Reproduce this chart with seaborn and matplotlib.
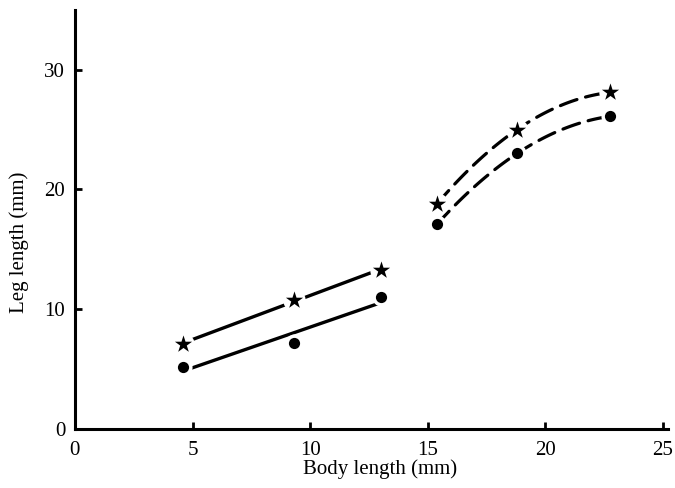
import numpy as np
import pandas as pd
import matplotlib.pyplot as plt
import seaborn as sns

# values
body_small = [4.6, 9.3, 13.0]
star_small = [7.1, 10.8, 13.25]
dot_small = [5.2, 7.2, 11.0]

body_large = [15.4, 18.8, 22.75]
star_large = [18.8, 25.0, 28.1]
dot_large = [17.1, 23.0, 26.1]

x_ticks = [0, 5, 10, 15, 20, 25]
y_ticks = [0, 10, 20, 30]

sns.set_style("ticks")
plt.rcParams['font.family'] = ['Liberation Serif', 'DejaVu Serif']
plt.rcParams['text.color'] = 'black'
plt.rcParams['axes.labelcolor'] = 'black'
plt.rcParams['xtick.color'] = 'black'
plt.rcParams['ytick.color'] = 'black'
plt.rcParams['axes.edgecolor'] = 'black'

fig = plt.figure(figsize=(6.75, 4.88), dpi=100)
ax = fig.add_axes([0.111, 0.121, 0.878, 0.859])

small = pd.DataFrame({'body': body_small, 'star': star_small, 'dot': dot_small})
large = pd.DataFrame({'body': body_large, 'star': star_large, 'dot': dot_large})

# fitted lines (solid, straight) for the small animals
for col in ['star', 'dot']:
    sns.regplot(data=small, x='body', y=col, ax=ax, scatter=False, ci=None,
                truncate=True, color='black', line_kws={'lw': 2.4, 'solid_capstyle': 'round'})

# dashed curves for the large animals
for col in ['star', 'dot']:
    sns.regplot(data=large, x='body', y=col, ax=ax, scatter=False, ci=None, order=2,
                truncate=True, color='black',
                line_kws={'lw': 2.3, 'ls': (0, (5.5, 2.8)), 'dash_capstyle': 'round'})

# white halos under the markers so the lines stop short of them
both = pd.concat([small, large], ignore_index=True)
sns.scatterplot(data=both, x='body', y='star', ax=ax, marker='o', s=260, color='white',
                linewidth=0, zorder=4)
sns.scatterplot(data=both, x='body', y='dot', ax=ax, marker='o', s=170, color='white',
                linewidth=0, zorder=4)
sns.scatterplot(data=both, x='body', y='star', ax=ax, marker='*', s=170, color='black',
                linewidth=0, zorder=5)
sns.scatterplot(data=both, x='body', y='dot', ax=ax, marker='o', s=65, color='black',
                linewidth=0, zorder=5)

ax.set_xlim(0, 25.2)
ax.set_ylim(0, 35)
ax.set_xticks(x_ticks)
ax.set_yticks(y_ticks)
ax.tick_params(direction='in', length=5, width=2, labelsize=15)
ax.tick_params(axis='x', pad=9)
ax.tick_params(axis='y', pad=7)
for s in ['left', 'bottom']:
    ax.spines[s].set_linewidth(2.2)
sns.despine(ax=ax)

ax.set_xlabel('Body length (mm)', fontsize=15, va='top')
ax.set_ylabel('Leg length (mm)', fontsize=15)
ax.xaxis.set_label_coords(0.515, -0.072)
ax.yaxis.set_label_coords(-0.077, 0.446)

fig.savefig('out.png', dpi=100)
